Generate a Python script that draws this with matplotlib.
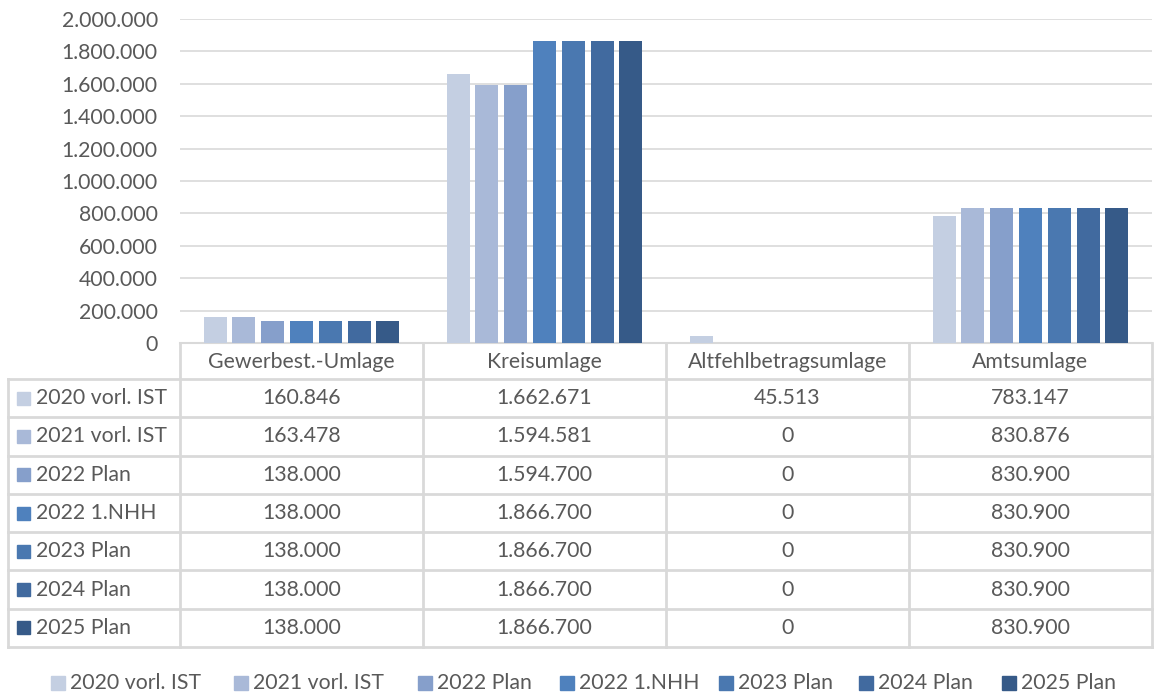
import matplotlib
matplotlib.use("Agg")
import matplotlib.pyplot as plt
from matplotlib.patches import Rectangle

categories = ["Gewerbest.-Umlage", "Kreisumlage", "Altfehlbetragsumlage", "Amtsumlage"]
series = ["2020 vorl. IST", "2021 vorl. IST", "2022 Plan", "2022 1.NHH",
          "2023 Plan", "2024 Plan", "2025 Plan"]
values = [
    [160846, 1662671, 45513, 783147],
    [163478, 1594581, 0, 830876],
    [138000, 1594700, 0, 830900],
    [138000, 1866700, 0, 830900],
    [138000, 1866700, 0, 830900],
    [138000, 1866700, 0, 830900],
    [138000, 1866700, 0, 830900],
]
colors = ["#C4CFE2", "#A9B9D8", "#869FCB", "#4F81BD", "#4A78B0", "#416A9F", "#365A88"]
yticks = [0, 200000, 400000, 600000, 800000, 1000000, 1200000, 1400000,
          1600000, 1800000, 2000000]

def fmt(v):
    return f"{v:,.0f}".replace(",", ".")

W, H = 1154, 696
FONT = "Lato"
TXT = "#595959"
GRID = "#D9D9D9"
fs = 15.3

fig = plt.figure(figsize=(W / 100, H / 100), dpi=100)
# plot area in pixels
L, R, T, B = 180, 1152, 19, 343
ax = fig.add_axes([L / W, 1 - B / H, (R - L) / W, (B - T) / H])
ncat = len(categories)
nser = len(series)
group_w = 0.83
bw = group_w / nser
for i, (s, vals, c) in enumerate(zip(series, values, colors)):
    xs = [j + (i - (nser - 1) / 2) * bw for j in range(ncat)]
    ax.bar(xs, vals, width=bw * 0.8, color=c, zorder=3)
ax.set_xlim(-0.5, ncat - 0.5)
ax.set_ylim(0, 2000000)
ax.set_yticks(yticks)
ax.set_yticklabels([fmt(v) for v in yticks], fontsize=fs, family=FONT, color=TXT)
ax.set_xticks([])
ax.tick_params(axis="y", length=0, pad=16)
ax.grid(axis="y", color=GRID, linewidth=1.2, zorder=0)
for sp in ["top", "right", "left"]:
    ax.spines[sp].set_visible(False)
ax.spines["bottom"].set_color(GRID)
ax.spines["bottom"].set_linewidth(1.5)

# overlay for table and legend
ov = fig.add_axes([0, 0, 1, 1])
ov.set_xlim(0, W)
ov.set_ylim(H, 0)
ov.axis("off")
ov.patch.set_alpha(0)

colx = [L + (R - L) * k / ncat for k in range(ncat + 1)]
hdr_top, hdr_bot = B, 379
row_h = (647 - 379) / nser
rows_y = [hdr_bot + k * row_h for k in range(nser + 1)]
lw = 2.0
# vertical lines
for x in colx:
    ov.plot([x, x], [hdr_top, rows_y[-1]], color=GRID, lw=lw)
ov.plot([8, 8], [hdr_bot, rows_y[-1]], color=GRID, lw=lw)
# horizontal lines
for y in rows_y:
    ov.plot([8, R], [y, y], color=GRID, lw=lw)

# header text
for k, cat in enumerate(categories):
    ov.text((colx[k] + colx[k + 1]) / 2, (hdr_top + hdr_bot) / 2 + 1, cat,
            ha="center", va="center", fontsize=fs, family=FONT, color=TXT)
# rows
for i, (s, vals, c) in enumerate(zip(series, values, colors)):
    yc = (rows_y[i] + rows_y[i + 1]) / 2
    ov.add_patch(Rectangle((17, yc - 6.5), 13, 13, color=c))
    ov.text(36, yc, s, ha="left", va="center", fontsize=fs, family=FONT, color=TXT)
    for k, v in enumerate(vals):
        ov.text((colx[k] + colx[k + 1]) / 2, yc, fmt(v), ha="center", va="center",
                fontsize=fs, family=FONT, color=TXT)

# legend
leg_x = [51, 234, 418, 560, 719, 859, 1002]
ly = 683
for x, s, c in zip(leg_x, series, colors):
    ov.add_patch(Rectangle((x, ly - 7), 14, 14, color=c))
    ov.text(x + 19, ly, s, ha="left", va="center", fontsize=fs, family=FONT, color=TXT)

fig.savefig("out.png", dpi=100, facecolor="white")
